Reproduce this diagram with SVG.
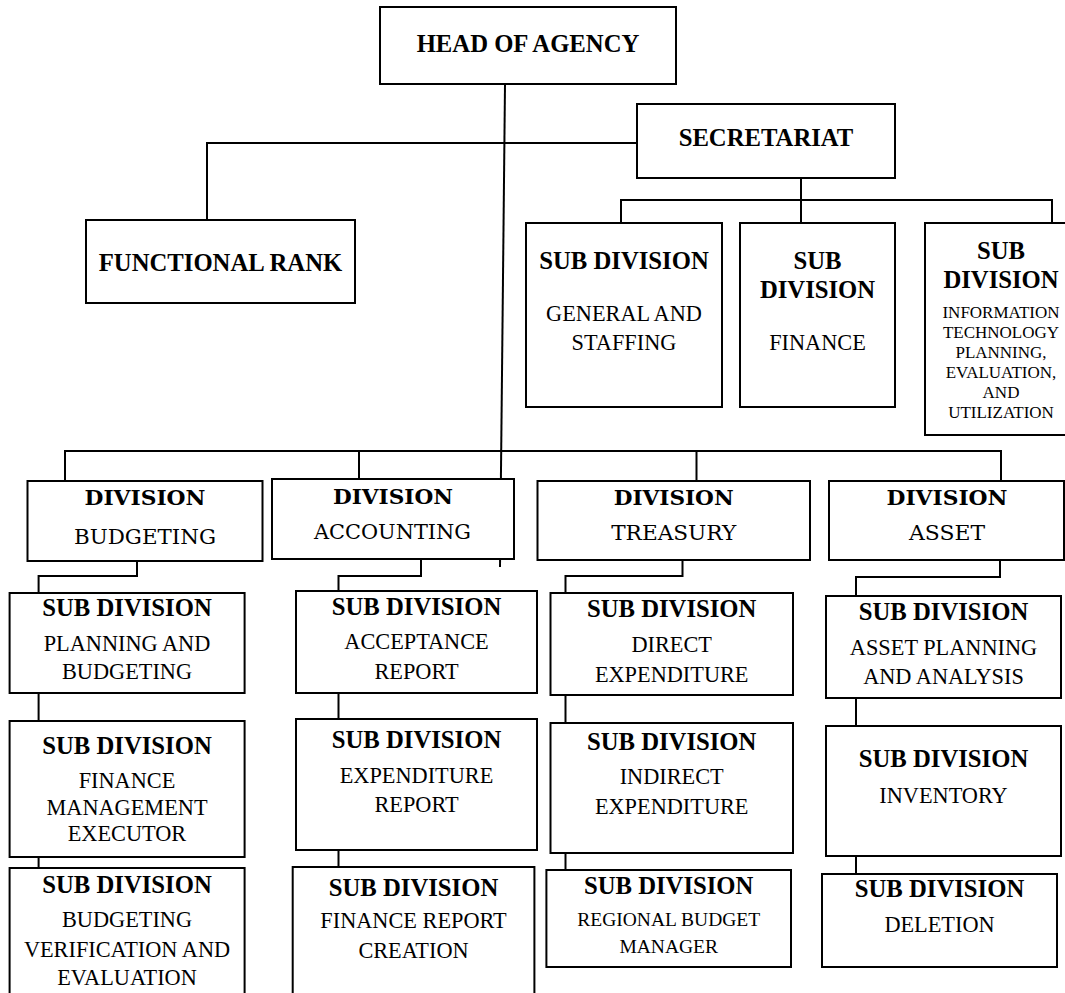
<svg xmlns="http://www.w3.org/2000/svg" width="1065" height="993" viewBox="0 0 1065 993">
<style>
  rect.box { fill: #fff; stroke: #000; stroke-width: 2; }
  .conn path { fill: none; stroke: #000; stroke-width: 2; }
  text { fill: #000; text-anchor: middle; }
  .b { font-family: "Liberation Serif", "Times New Roman", serif; font-weight: bold; font-size: 24.7px; }
  .r { font-family: "Liberation Serif", "Times New Roman", serif; font-size: 22.3px; }
  .rs { font-family: "Liberation Serif", "Times New Roman", serif; font-size: 17px; }
  .rm { font-family: "Liberation Serif", "Times New Roman", serif; font-size: 19.5px; }
  .db { font-family: "DejaVu Serif", serif; font-weight: bold; font-size: 21px; }
  .dr { font-family: "DejaVu Serif", serif; font-size: 20px; }
</style>
<rect width="1065" height="993" fill="#fff"/>
<g class="conn" id="connectors">
  <path d="M505,84 L500,567"/>
  <path d="M207,220 V143 H637"/>
  <path d="M801,178 V200"/>
  <path d="M621,223 V200 H1052 V223"/>
  <path d="M801,200 V223"/>
  <path d="M65,481 V451 H1001 V481"/>
  <path d="M359,479 V451"/>
  <path d="M696.5,481 V451"/>
  <path d="M137,561 V576 H38.6 V593"/>
  <path d="M421,559 V576 H338.5 V591"/>
  <path d="M682.5,560 V576 H565.5 V593"/>
  <path d="M1000,560 V577 H856 V596"/>
  <path d="M38.6,693 V721"/>
  <path d="M38.6,857 V868"/>
  <path d="M338.5,693 V719"/>
  <path d="M338.5,850 V867"/>
  <path d="M565.5,695 V723"/>
  <path d="M565.5,853 V870"/>
  <path d="M856,698 V726"/>
  <path d="M856,856 V874"/>
</g>
<g id="head">
  <rect class="box" x="380" y="7" width="296" height="77"/>
  <text class="b" x="528" y="52">HEAD OF AGENCY</text>
</g>
<g id="secretariat">
  <rect class="box" x="637" y="104" width="258" height="74"/>
  <text class="b" x="766" y="146">SECRETARIAT</text>
</g>
<g id="functional-rank">
  <rect class="box" x="86" y="220" width="269" height="83"/>
  <text class="b" x="220.5" y="271">FUNCTIONAL RANK</text>
</g>
<g id="sd-general">
  <rect class="box" x="526" y="223" width="196" height="184"/>
  <text class="b" x="624" y="269">SUB DIVISION</text>
  <text class="r" x="624" y="321">GENERAL AND</text>
  <text class="r" x="624" y="350">STAFFING</text>
</g>
<g id="sd-finance">
  <rect class="box" x="740" y="223" width="155" height="184"/>
  <text class="b" x="817.5" y="269">SUB</text>
  <text class="b" x="817.5" y="298">DIVISION</text>
  <text class="r" x="817.5" y="350">FINANCE</text>
</g>
<g id="sd-it">
  <rect class="box" x="925" y="223" width="152" height="212"/>
  <text class="b" x="1001" y="259">SUB</text>
  <text class="b" x="1001" y="288">DIVISION</text>
  <text class="rs" x="1001" y="318">INFORMATION</text>
  <text class="rs" x="1001" y="338">TECHNOLOGY</text>
  <text class="rs" x="1001" y="358">PLANNING,</text>
  <text class="rs" x="1001" y="378">EVALUATION,</text>
  <text class="rs" x="1001" y="398">AND</text>
  <text class="rs" x="1001" y="418">UTILIZATION</text>
</g>
<g id="div-budgeting">
  <rect class="box" x="27.5" y="481" width="235" height="80"/>
  <text class="db" x="145" y="505" textLength="121" lengthAdjust="spacingAndGlyphs">DIVISION</text>
  <text class="dr" x="145" y="544" textLength="142" lengthAdjust="spacingAndGlyphs">BUDGETING</text>
</g>
<g id="div-accounting">
  <rect class="box" x="272" y="479" width="242" height="80"/>
  <text class="db" x="393" y="504" textLength="120" lengthAdjust="spacingAndGlyphs">DIVISION</text>
  <text class="dr" x="392.5" y="539" textLength="157" lengthAdjust="spacingAndGlyphs">ACCOUNTING</text>
</g>
<g id="div-treasury">
  <rect class="box" x="537.5" y="481" width="272.5" height="79"/>
  <text class="db" x="673.7" y="505" textLength="120" lengthAdjust="spacingAndGlyphs">DIVISION</text>
  <text class="dr" x="673.7" y="540" textLength="125" lengthAdjust="spacingAndGlyphs">TREASURY</text>
</g>
<g id="div-asset">
  <rect class="box" x="829" y="481" width="235" height="79"/>
  <text class="db" x="947" y="505" textLength="121" lengthAdjust="spacingAndGlyphs">DIVISION</text>
  <text class="dr" x="947" y="540" textLength="76" lengthAdjust="spacingAndGlyphs">ASSET</text>
</g>
<g id="sd-planning-budgeting">
  <rect class="box" x="9.6" y="593" width="235" height="100"/>
  <text class="b" x="127" y="616">SUB DIVISION</text>
  <text class="r" x="127" y="651">PLANNING AND</text>
  <text class="r" x="127" y="679">BUDGETING</text>
</g>
<g id="sd-finance-management">
  <rect class="box" x="9.6" y="721" width="235" height="136"/>
  <text class="b" x="127" y="754">SUB DIVISION</text>
  <text class="r" x="127" y="788">FINANCE</text>
  <text class="r" x="127" y="815">MANAGEMENT</text>
  <text class="r" x="127" y="841">EXECUTOR</text>
</g>
<g id="sd-budgeting-verification">
  <rect class="box" x="9.6" y="868" width="235" height="140"/>
  <text class="b" x="127" y="893">SUB DIVISION</text>
  <text class="r" x="127" y="927">BUDGETING</text>
  <text class="r" x="127" y="957">VERIFICATION AND</text>
  <text class="r" x="127" y="985">EVALUATION</text>
</g>
<g id="sd-acceptance">
  <rect class="box" x="296" y="591" width="241" height="102"/>
  <text class="b" x="416.5" y="615">SUB DIVISION</text>
  <text class="r" x="416.5" y="649">ACCEPTANCE</text>
  <text class="r" x="416.5" y="679">REPORT</text>
</g>
<g id="sd-expenditure-report">
  <rect class="box" x="296" y="719" width="241" height="131"/>
  <text class="b" x="416.5" y="748">SUB DIVISION</text>
  <text class="r" x="416.5" y="783">EXPENDITURE</text>
  <text class="r" x="416.5" y="812">REPORT</text>
</g>
<g id="sd-finance-report">
  <rect class="box" x="292.7" y="867" width="241.7" height="140"/>
  <text class="b" x="413.5" y="896">SUB DIVISION</text>
  <text class="r" x="413.5" y="928">FINANCE REPORT</text>
  <text class="r" x="413.5" y="958">CREATION</text>
</g>
<g id="sd-direct">
  <rect class="box" x="550.5" y="593" width="242.5" height="102"/>
  <text class="b" x="671.7" y="617">SUB DIVISION</text>
  <text class="r" x="671.7" y="652">DIRECT</text>
  <text class="r" x="671.7" y="682">EXPENDITURE</text>
</g>
<g id="sd-indirect">
  <rect class="box" x="550.5" y="723" width="242.5" height="130"/>
  <text class="b" x="671.7" y="750">SUB DIVISION</text>
  <text class="r" x="671.7" y="784">INDIRECT</text>
  <text class="r" x="671.7" y="814">EXPENDITURE</text>
</g>
<g id="sd-regional">
  <rect class="box" x="546.4" y="870" width="244.6" height="97"/>
  <text class="b" x="668.7" y="894">SUB DIVISION</text>
  <text class="rm" x="668.7" y="926">REGIONAL BUDGET</text>
  <text class="rm" x="668.7" y="953">MANAGER</text>
</g>
<g id="sd-asset-planning">
  <rect class="box" x="826" y="596" width="235" height="102"/>
  <text class="b" x="943.5" y="620">SUB DIVISION</text>
  <text class="r" x="943.5" y="655">ASSET PLANNING</text>
  <text class="r" x="943.5" y="684">AND ANALYSIS</text>
</g>
<g id="sd-inventory">
  <rect class="box" x="826" y="726" width="235" height="130"/>
  <text class="b" x="943.5" y="767">SUB DIVISION</text>
  <text class="r" x="943.5" y="803">INVENTORY</text>
</g>
<g id="sd-deletion">
  <rect class="box" x="822" y="874" width="235" height="93"/>
  <text class="b" x="939.5" y="897">SUB DIVISION</text>
  <text class="r" x="939.5" y="932">DELETION</text>
</g>
</svg>
